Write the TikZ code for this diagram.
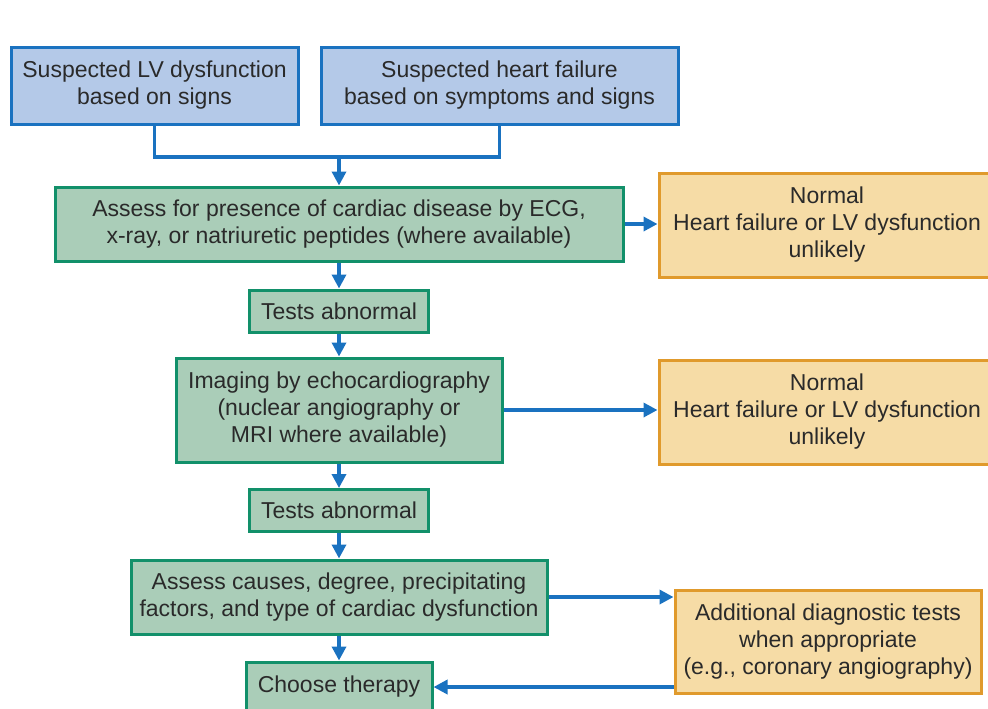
\documentclass[tikz,border=0pt]{standalone}
\usepackage{fontspec}
\setmainfont{Liberation Sans}
\usetikzlibrary{arrows.meta}
\definecolor{bluefill}{HTML}{B4C9E8}
\definecolor{blueline}{HTML}{1A72C0}
\definecolor{greenfill}{HTML}{AACDB8}
\definecolor{greenline}{HTML}{12906A}
\definecolor{orangefill}{HTML}{F6DCA6}
\definecolor{orangeline}{HTML}{E09A2C}
\definecolor{txt}{HTML}{2A2A2A}
\tikzset{
  box/.style={draw, line width=1.5pt, inner sep=0pt, align=center, text=txt,
    font=\fontsize{11.5}{13.5}\selectfont},
  bluebox/.style={box, fill=bluefill, draw=blueline},
  greenbox/.style={box, fill=greenfill, draw=greenline},
  orangebox/.style={box, fill=orangefill, draw=orangeline},
  conn/.style={draw=blueline, line width=1.7pt},
  arr/.style={conn, -{Triangle[length=7pt,width=7pt]}}
}
\begin{document}
\begin{tikzpicture}[x=0.5pt,y=-0.5pt]
\useasboundingbox (0,0) rectangle (988,708);
\node[bluebox, minimum width=143.5pt, minimum height=38.5pt] (b1) at (154.5,85.5) {Suspected LV dysfunction\\based on signs};
\node[bluebox, minimum width=178.5pt, minimum height=38.5pt] (b2) at (499.5,85.5) {Suspected heart failure\\based on symptoms and signs};
\node[greenbox, minimum width=284pt, minimum height=37pt] (g1) at (339,224) {Assess for presence of cardiac disease by ECG,\\x-ray, or natriuretic peptides (where available)};
\node[greenbox, minimum width=89.5pt, minimum height=21pt] (t1) at (339,311) {Tests abnormal};
\node[greenbox, minimum width=163pt, minimum height=52pt] (im) at (339,410) {Imaging by echocardiography\\(nuclear angiography or\\MRI where available)};
\node[greenbox, minimum width=89.5pt, minimum height=21pt] (t2) at (339,510.5) {Tests abnormal};
\node[greenbox, minimum width=208pt, minimum height=37pt] (a3) at (339,597) {Assess causes, degree, precipitating\\factors, and type of cardiac dysfunction};
\node[greenbox, minimum width=93pt, minimum height=25pt] (ch) at (339,687) {Choose therapy};
\node[orangebox, minimum width=168pt, minimum height=52pt] (o1) at (827,225) {Normal\\Heart failure or LV dysfunction\\unlikely};
\node[orangebox, minimum width=168pt, minimum height=52pt] (o2) at (827,412) {Normal\\Heart failure or LV dysfunction\\unlikely};
\node[orangebox, minimum width=153pt, minimum height=51.5pt] (o3) at (828,641.5) {Additional diagnostic tests\\when appropriate\\(e.g., coronary angiography)};
\coordinate (jn) at (339,157);
\draw[conn] (b1.south) |- (jn) -| (b2.south);
\draw[arr] (jn) -- (g1.north);
\draw[arr] (g1) -- (t1);
\draw[arr] (t1) -- (im);
\draw[arr] (im) -- (t2);
\draw[arr] (t2) -- (a3);
\draw[arr] (a3) -- (ch);
\draw[arr] (g1.east) -- (o1.west |- g1.east);
\draw[arr] (im.east) -- (o2.west |- im.east);
\draw[arr] (a3.east) -- (o3.west |- a3.east);
\draw[arr] (o3.west |- ch.east) -- (ch.east);
\end{tikzpicture}
\end{document}
